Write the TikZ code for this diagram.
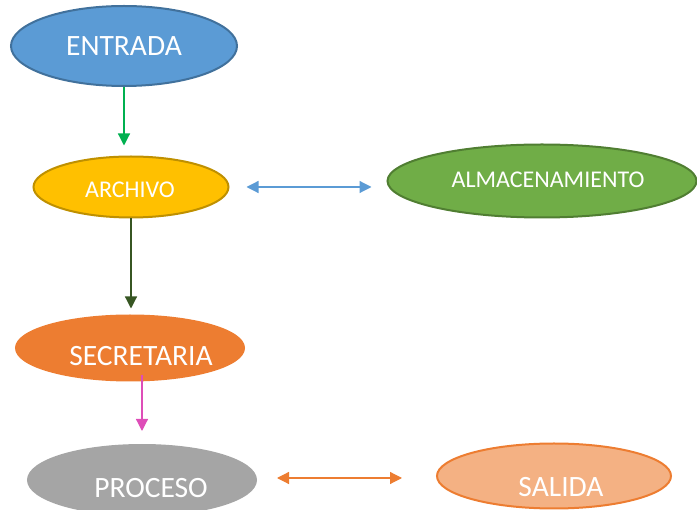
\documentclass[tikz,border=0pt]{standalone}
\usepackage{fontspec}
\setmainfont{Carlito}
\usetikzlibrary{arrows.meta,shapes.geometric}
\definecolor{cEntrada}{HTML}{5B9BD5}
\definecolor{cEntradaB}{HTML}{41719C}
\definecolor{cArchivo}{HTML}{FFC000}
\definecolor{cArchivoB}{HTML}{BF9000}
\definecolor{cAlmac}{HTML}{70AD47}
\definecolor{cAlmacB}{HTML}{507E32}
\definecolor{cSecre}{HTML}{ED7D31}
\definecolor{cProceso}{HTML}{A5A5A5}
\definecolor{cSalida}{HTML}{F4B183}
\definecolor{cGreen}{HTML}{00B050}
\definecolor{cDark}{HTML}{375623}
\definecolor{cPink}{HTML}{DE4DB8}
\tikzset{
  oval/.style={ellipse, inner sep=0pt, line width=2pt},
  bigtxt/.style={text=white, font=\fontsize{29.5}{31}\selectfont, inner sep=0pt},
  smalltxt/.style={text=white, font=\fontsize{24}{26}\selectfont, inner sep=0pt},
  arr/.style={line width=1.2pt, -{Triangle[length=12pt,width=12pt]}},
  darr/.style={line width=1.2pt, {Triangle[length=12pt,width=12pt]}-{Triangle[length=12pt,width=12pt]}}
}

\begin{document}
\begin{tikzpicture}[x=1pt,y=-1pt]
\useasboundingbox (0,0) rectangle (697,510);
\node[oval, fill=cEntrada, draw=cEntradaB, minimum width=226pt, minimum height=80pt] (entrada) at (124,46) {};
\node[bigtxt] (entradat) at (124,46) {ENTRADA};
%
\node[oval, fill=cArchivo, draw=cArchivoB, minimum width=195pt, minimum height=61pt] (archivo) at (131,187) {};
\node[smalltxt] (archivot) at (130,190) {ARCHIVO};
%
\node[oval, fill=cAlmac, draw=cAlmacB, minimum width=309pt, minimum height=73pt] (almac) at (542,181) {};
\node[smalltxt] (almact) at (548,180) {ALMACENAMIENTO};
%
\node[oval, fill=cSecre, draw=cSecre, minimum width=228pt, minimum height=65pt] (secre) at (130,348) {};
\node[bigtxt] (secret) at (141,356) {SECRETARIA};
%
\node[oval, fill=cProceso, draw=cProceso, minimum width=228pt, minimum height=70pt] (proceso) at (142,480) {};
\node[bigtxt] (procesot) at (151,488) {PROCESO};
%
\node[oval, fill=cSalida, draw=cSecre, minimum width=234pt, minimum height=65pt] (salida) at (554,476) {};
\node[bigtxt] (salidat) at (561,487) {SALIDA};
%
\coordinate (p1) at (142,375);
\draw[arr, cGreen, shorten >=10pt] (entrada.south) -- (entrada.south |- archivo.north);
\draw[arr, cDark, shorten >=6pt] (archivo.south) -- (archivo.south |- secre.north);
\draw[arr, cPink, shorten >=13pt] (p1) -- (p1 |- proceso.north);
\draw[darr, cEntrada, shorten <=17pt, shorten >=15pt] (archivo.east) -- (archivo.east -| almac.west);
\draw[darr, cSecre, shorten <=20pt, shorten >=34pt] (proceso.east |- salida.center) ++(0,2) coordinate (p2) -- (p2 -| salida.west);
\end{tikzpicture}
\end{document}
